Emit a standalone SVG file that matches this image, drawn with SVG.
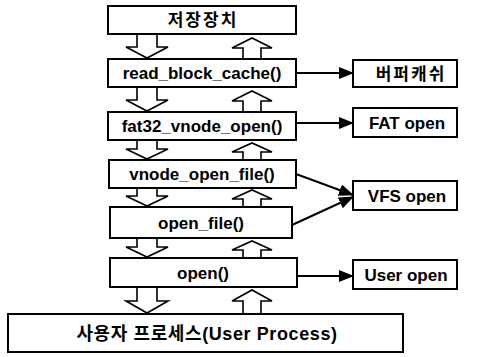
<svg xmlns="http://www.w3.org/2000/svg" width="487" height="357" viewBox="0 0 487 357">
  <style>
    .box { fill: #ffffff; stroke: #000000; stroke-width: 2; }
    .flow { fill: #ffffff; stroke: #000000; stroke-width: 1.6; stroke-linejoin: miter; }
    .lbl { font-family: "Liberation Sans", "Noto Sans CJK KR", sans-serif; font-weight: bold; font-size: 17px; fill: #000000; text-anchor: middle; }
    .ko { letter-spacing: 2px; }
    .link { fill: none; stroke: #000000; stroke-width: 2; }
  </style>
  <defs>
    <marker id="head" markerUnits="userSpaceOnUse" markerWidth="15" markerHeight="12" refX="14" refY="6" orient="auto">
      <path d="M0,0 L15,6 L0,12 Z" fill="#000000"/>
    </marker>
  </defs>
  <rect width="487" height="357" fill="#ffffff"/>

  <!-- block arrows between the stacked layers -->
  <g id="flow-arrows">
    <!-- downward (request) -->
    <path class="flow" d="M137,34 V47 H126 L147,58 L168,47 H157 V34 Z"/>
    <path class="flow" d="M137,87 V100 H126 L147,111 L168,100 H157 V87 Z"/>
    <path class="flow" d="M137,140 V149 H126 L147,159 L168,149 H157 V140 Z"/>
    <path class="flow" d="M137,188 V196 H126 L147,206 L168,196 H157 V188 Z"/>
    <path class="flow" d="M137,238 V247 H126 L147,257 L168,247 H157 V238 Z"/>
    <path class="flow" d="M137,287 V301 H126 L147,313 L168,301 H157 V287 Z"/>
    <!-- upward (result) -->
    <path class="flow" d="M243,59 V48 H232 L252,38 L272,48 H261 V59 Z"/>
    <path class="flow" d="M243,112 V101 H232 L252,91 L272,101 H261 V112 Z"/>
    <path class="flow" d="M243,160 V152 H232 L252,143 L272,152 H261 V160 Z"/>
    <path class="flow" d="M243,207 V199 H232 L252,190 L272,199 H261 V207 Z"/>
    <path class="flow" d="M243,258 V250 H232 L252,241 L272,250 H261 V258 Z"/>
    <path class="flow" d="M243,314 V301 H232 L252,290 L272,301 H261 V314 Z"/>
  </g>

  <g id="storage">
    <rect class="box" x="108" y="6" width="188" height="28"/>
    <text class="lbl ko" x="203" y="26">저장장치</text>
  </g>
  <g id="read-block-cache">
    <rect class="box" x="108" y="59" width="188" height="28"/>
    <text class="lbl" x="202" y="79">read_block_cache()</text>
  </g>
  <g id="fat32-vnode-open">
    <rect class="box" x="108" y="112" width="188" height="28"/>
    <text class="lbl" x="202" y="132">fat32_vnode_open()</text>
  </g>
  <g id="vnode-open-file">
    <rect class="box" x="109" y="160" width="187" height="28"/>
    <text class="lbl" x="202" y="180">vnode_open_file()</text>
  </g>
  <g id="open-file">
    <rect class="box" x="110" y="207" width="182" height="31"/>
    <text class="lbl" x="201" y="229">open_file()</text>
  </g>
  <g id="open">
    <rect class="box" x="110" y="258" width="187" height="29"/>
    <text class="lbl" x="203" y="279">open()</text>
  </g>
  <g id="user-process">
    <rect class="box" x="8" y="314" width="395" height="38"/>
    <text class="lbl" x="207" y="340" style="font-size:18px; letter-spacing:0.6px">사용자 프로세스(User Process)</text>
  </g>

  <g id="buffer-cache">
    <rect class="box" x="353" y="60" width="104" height="27"/>
    <text class="lbl ko" x="411" y="80">버퍼캐쉬</text>
  </g>
  <g id="fat-open">
    <rect class="box" x="353" y="108" width="104" height="29"/>
    <text class="lbl" x="407" y="129">FAT open</text>
  </g>
  <g id="vfs-open">
    <rect class="box" x="353" y="181" width="104" height="29"/>
    <text class="lbl" x="407" y="202">VFS open</text>
  </g>
  <g id="user-open">
    <rect class="box" x="353" y="260" width="104" height="29"/>
    <text class="lbl" x="406" y="281">User open</text>
  </g>

  <g id="connectors">
    <line class="link" x1="296" y1="73" x2="353" y2="73" marker-end="url(#head)"/>
    <line class="link" x1="296" y1="123" x2="353" y2="123" marker-end="url(#head)"/>
    <line class="link" x1="296" y1="174" x2="353" y2="195" marker-end="url(#head)"/>
    <line class="link" x1="292" y1="225" x2="353" y2="197" marker-end="url(#head)"/>
    <line class="link" x1="297" y1="276" x2="353" y2="276" marker-end="url(#head)"/>
  </g>
</svg>
